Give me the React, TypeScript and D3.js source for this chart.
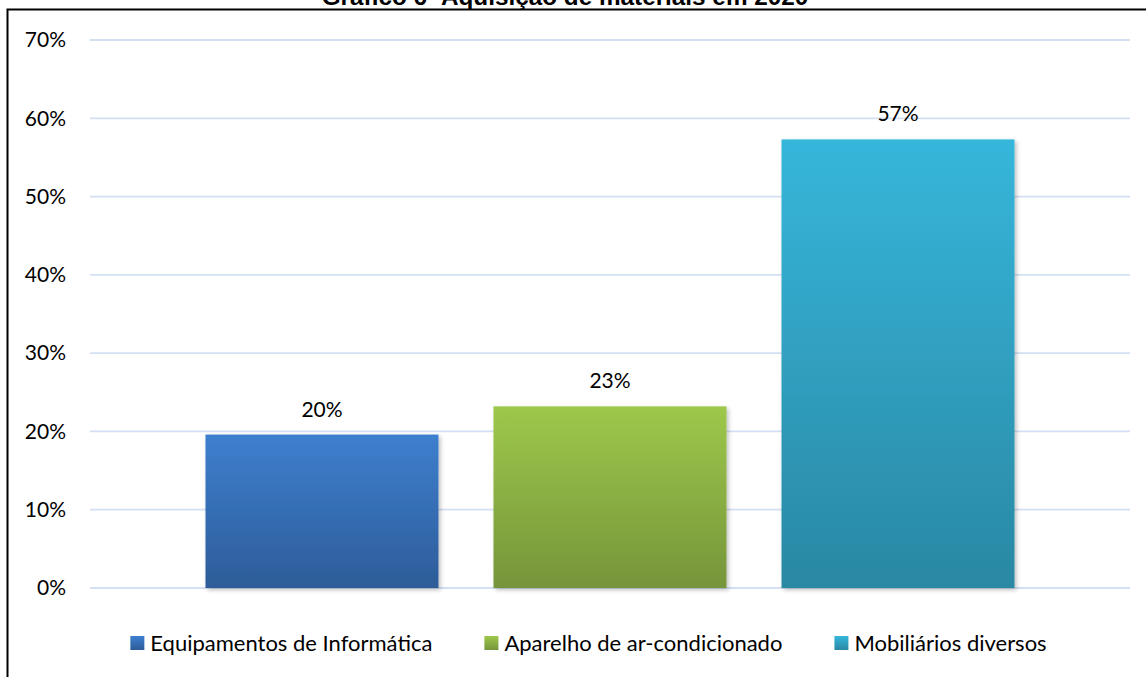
import { useEffect, useRef } from "react";
import * as d3 from "d3";

const title = "Gráfico 6- Aquisição de materiais em 2020";
const seriesNames = [
  "Equipamentos de Informática",
  "Aparelho de ar-condicionado",
  "Mobiliários diversos",
];
const seriesValues = [0.196, 0.232, 0.573];
const valueLabels = ["20%", "23%", "57%"];
const yTicks = [0, 0.1, 0.2, 0.3, 0.4, 0.5, 0.6, 0.7];
const topColors = ["#3e7fcf", "#9dc84b", "#36b6db"];
const bottomColors = ["#2d5c98", "#76953a", "#2a88a3"];

const W = 1146;
const H = 677;
const FONT = "Lato, 'Noto Sans', sans-serif";

export default function App() {
  const ref = useRef<SVGSVGElement>(null);

  useEffect(() => {
    const svg = d3.select(ref.current);
    svg.selectAll("*").remove();

    const defs = svg.append("defs");
    seriesNames.forEach((_, i) => {
      const g = defs
        .append("linearGradient")
        .attr("id", `grad${i}`)
        .attr("x1", 0)
        .attr("y1", 0)
        .attr("x2", 0)
        .attr("y2", 1);
      g.append("stop").attr("offset", "0%").attr("stop-color", topColors[i]);
      g.append("stop").attr("offset", "100%").attr("stop-color", bottomColors[i]);
    });
    const shadow = defs.append("filter").attr("id", "shadow").attr("x", "-10%").attr("y", "-10%").attr("width", "130%").attr("height", "130%");
    shadow
      .append("feDropShadow")
      .attr("dx", 2)
      .attr("dy", 2)
      .attr("stdDeviation", 2)
      .attr("flood-color", "#000")
      .attr("flood-opacity", 0.25);

    // outer frame, only top and left edges are inside the picture
    svg
      .append("rect")
      .attr("x", 7.5)
      .attr("y", 9.5)
      .attr("width", 1300)
      .attr("height", 900)
      .attr("fill", "none")
      .attr("stroke", "#000")
      .attr("stroke-width", 2);

    // title sits above the frame and is clipped by the top edge, as in the source
    svg
      .append("text")
      .attr("x", 565)
      .attr("y", 5)
      .attr("text-anchor", "middle")
      .attr("font-family", "'Liberation Sans', Arial, sans-serif")
      .attr("font-weight", "bold")
      .attr("font-size", 24.3)
      .text(title);

    const left = 90;
    const right = 1130;
    const y = d3.scaleLinear().domain([0, 0.7]).range([588, 40]);
    const x = d3
      .scaleBand<string>()
      .domain(seriesNames)
      .range([left, right])
      .paddingInner(0.191)
      .paddingOuter(0.401);

    svg
      .append("g")
      .selectAll("line")
      .data(yTicks)
      .join("line")
      .attr("x1", left)
      .attr("x2", right)
      .attr("y1", (d) => y(d))
      .attr("y2", (d) => y(d))
      .attr("stroke", "#d3e0f3")
      .attr("stroke-width", 1.8);

    svg
      .append("g")
      .selectAll("text")
      .data(yTicks)
      .join("text")
      .attr("x", 66)
      .attr("y", (d) => y(d))
      .attr("dy", "0.35em")
      .attr("text-anchor", "end")
      .attr("font-family", FONT)
      .attr("font-size", 21)
      .attr("fill", "#000")
      .text((d) => d3.format(".0%")(d));

    svg
      .append("g")
      .selectAll("rect")
      .data(seriesValues)
      .join("rect")
      .attr("x", (_, i) => x(seriesNames[i])!)
      .attr("width", x.bandwidth())
      .attr("y", (d) => y(d))
      .attr("height", (d) => y(0) - y(d))
      .attr("fill", (_, i) => `url(#grad${i})`)
      .attr("filter", "url(#shadow)");

    svg
      .append("g")
      .selectAll("text")
      .data(seriesValues)
      .join("text")
      .attr("x", (_, i) => x(seriesNames[i])! + x.bandwidth() / 2)
      .attr("y", (d) => y(d) - 18)
      .attr("text-anchor", "middle")
      .attr("font-family", FONT)
      .attr("font-size", 21)
      .attr("fill", "#000")
      .text((_, i) => valueLabels[i]);

    // legend, laid out from measured text widths
    const legend = svg.append("g");
    const sq = 14;
    const gapText = 6;
    const gapItem = 52;
    let cx = 0;
    seriesNames.forEach((name, i) => {
      const g = legend.append("g").attr("transform", `translate(${cx},0)`);
      g.append("rect")
        .attr("x", 0)
        .attr("y", -sq / 2)
        .attr("width", sq)
        .attr("height", sq)
        .attr("fill", `url(#grad${i})`);
      const t = g
        .append("text")
        .attr("x", sq + gapText)
        .attr("dy", "0.35em")
        .attr("font-family", FONT)
        .attr("font-size", 22)
        .attr("fill", "#000")
        .text(name);
      const w = (t.node() as SVGTextElement).getComputedTextLength();
      cx += sq + gapText + w + gapItem;
    });
    const total = cx - gapItem;
    legend.attr("transform", `translate(${588.5 - total / 2},643)`);
  }, []);

  return (
    <svg
      ref={ref}
      width={W}
      height={H}
      style={{ position: "fixed", left: 0, top: 0, background: "#fff" }}
    />
  );
}
